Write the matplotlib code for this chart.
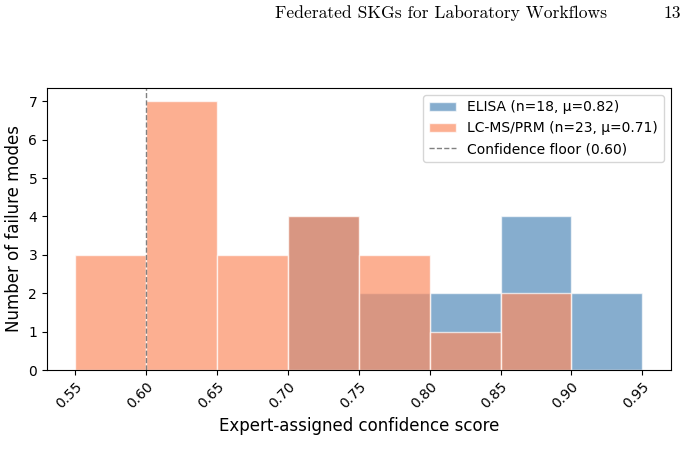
import matplotlib.pyplot as plt
plt.switch_backend('agg')
import numpy as np

# histogram bins and counts
bin_edges = [0.55, 0.60, 0.65, 0.70, 0.75, 0.80, 0.85, 0.90, 0.95]
elisa_counts = [0, 0, 0, 4, 2, 2, 4, 2]
lcms_counts = [3, 7, 3, 4, 3, 1, 2, 0]
elisa_label = 'ELISA (n=18, μ=0.82)'
lcms_label = 'LC-MS/PRM (n=23, μ=0.71)'
floor = 0.60
floor_label = 'Confidence floor (0.60)'
header = 'Federated SKGs for Laboratory Workflows'
page = '13'

edges = np.array(bin_edges)
centers = (edges[:-1] + edges[1:]) / 2

fig = plt.figure(figsize=(6.9, 4.75), dpi=100)
ax = fig.add_axes([0.068, 0.221, 0.904, 0.594])

ax.hist(centers, bins=edges, weights=elisa_counts, color='steelblue',
        alpha=0.65, edgecolor='white', linewidth=1, label=elisa_label)
ax.hist(centers, bins=edges, weights=lcms_counts, color='#FC8D62',
        alpha=0.7, edgecolor='white', linewidth=1, label=lcms_label)
ax.axvline(floor, color='gray', linestyle='--', linewidth=1, label=floor_label)

ax.set_xticks(edges)
ax.set_xticklabels([f'{e:.2f}' for e in edges], rotation=45, ha='right',
                   rotation_mode='anchor', fontsize=10)
ax.tick_params(axis='y', labelsize=10)
ax.set_xlabel('Expert-assigned confidence score', fontsize=12)
ax.set_ylabel('Number of failure modes', fontsize=12)
ax.legend(loc='upper right', fontsize=10)

fig.text(0.398, 0.972, header, fontsize=12.6, family='cmr10', va='center')
fig.text(0.962, 0.972, page, fontsize=12.6, family='cmr10', va='center')

fig.savefig('out.png', dpi=100)
plt.close(fig)
